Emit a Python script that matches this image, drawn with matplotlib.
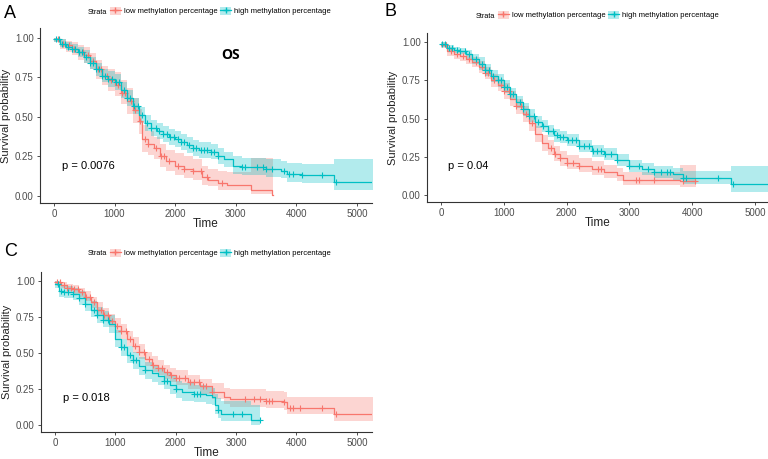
import matplotlib
matplotlib.use("Agg")
import matplotlib.pyplot as plt
import numpy as np
from matplotlib.patches import Patch
from matplotlib.lines import Line2D

RED = "#F8766D"
TEAL = "#00BFC4"
LABELS = ["low methylation percentage", "high methylation percentage"]

# ---- Panel A ----
a_low_t = [0, 100, 200, 300, 400, 500, 600, 700, 800, 900, 1000, 1100, 1200, 1300, 1400, 1450, 1550, 1650,
           1750, 1850, 2000, 2150, 2300, 2450, 2550, 2700, 2850, 3250, 3600, 3620]
a_low_s = [0.99, 0.96, 0.95, 0.93, 0.91, 0.89, 0.85, 0.80, 0.76, 0.73, 0.70, 0.65, 0.60, 0.54, 0.47, 0.36, 0.33,
           0.30, 0.25, 0.22, 0.19, 0.17, 0.16, 0.12, 0.10, 0.08, 0.07, 0.035, 0.005, 0.005]
a_low_lo = [0.97, 0.93, 0.91, 0.89, 0.86, 0.84, 0.80, 0.74, 0.70, 0.66, 0.63, 0.58, 0.52, 0.46, 0.39, 0.28, 0.26,
            0.23, 0.18, 0.16, 0.13, 0.11, 0.10, 0.07, 0.06, 0.04, 0.035, 0.01, 0.0, 0.0]
a_low_hi = [1.0, 0.99, 0.98, 0.97, 0.95, 0.94, 0.90, 0.86, 0.82, 0.80, 0.78, 0.73, 0.68, 0.62, 0.55, 0.45, 0.41,
            0.37, 0.33, 0.29, 0.27, 0.25, 0.23, 0.19, 0.17, 0.16, 0.15, 0.24, 0.24, 0.24]
a_low_cens = [60, 150, 250, 330, 420, 480, 560, 650, 720, 780, 870, 950, 1050, 1120, 1180, 1280, 1330, 1420,
              1500, 1560, 1680, 1760, 1820, 1900, 2050, 2150, 2300, 2420, 2520, 2780]

a_high_t = [0, 100, 200, 300, 400, 500, 600, 700, 800, 900, 1000, 1100, 1200, 1300, 1400, 1500, 1600, 1700,
            1800, 1900, 2000, 2100, 2200, 2300, 2400, 2600, 2700, 2800, 2950, 3100, 3500, 3750, 3850, 4100,
            4620, 5300]
a_high_s = [0.99, 0.96, 0.94, 0.93, 0.91, 0.88, 0.84, 0.80, 0.76, 0.74, 0.72, 0.67, 0.62, 0.57, 0.51, 0.46,
            0.43, 0.41, 0.39, 0.37, 0.36, 0.34, 0.32, 0.30, 0.29, 0.28, 0.25, 0.23, 0.19, 0.18, 0.17, 0.16,
            0.14, 0.13, 0.09, 0.09]
a_high_lo = [0.97, 0.94, 0.92, 0.90, 0.88, 0.84, 0.80, 0.76, 0.72, 0.69, 0.67, 0.62, 0.57, 0.52, 0.46, 0.41,
             0.38, 0.36, 0.34, 0.32, 0.31, 0.29, 0.27, 0.25, 0.24, 0.23, 0.20, 0.18, 0.14, 0.13, 0.12, 0.11,
             0.09, 0.08, 0.04, 0.04]
a_high_hi = [1.0, 0.99, 0.97, 0.96, 0.94, 0.92, 0.88, 0.84, 0.80, 0.79, 0.77, 0.72, 0.67, 0.62, 0.56, 0.51,
             0.48, 0.46, 0.44, 0.42, 0.41, 0.39, 0.37, 0.35, 0.34, 0.33, 0.30, 0.28, 0.25, 0.24, 0.23, 0.22,
             0.21, 0.20, 0.23, 0.23]
a_high_cens = [30, 80, 130, 180, 230, 300, 350, 420, 470, 530, 600, 650, 700, 750, 800, 850, 900, 960, 1020,
               1080, 1150, 1200, 1250, 1320, 1380, 1450, 1530, 1600, 1680, 1740, 1800, 1860, 1920, 1980, 2050,
               2100, 2150, 2230, 2300, 2350, 2420, 2480, 2520, 2600, 2650, 2700, 3100, 3150, 3350, 3450, 3500,
               3600, 3800, 3880, 3950, 4100, 4420, 4650]

# ---- Panel B ----
b_low_t = [0, 100, 200, 300, 400, 500, 600, 700, 800, 900, 1000, 1100, 1200, 1300, 1400, 1500, 1600, 1700,
           1800, 1900, 2000, 2200, 2400, 2600, 2800, 2900, 3800, 4070]
b_low_s = [0.98, 0.94, 0.92, 0.91, 0.89, 0.87, 0.84, 0.80, 0.75, 0.72, 0.68, 0.63, 0.58, 0.53, 0.47, 0.40,
           0.34, 0.31, 0.27, 0.24, 0.21, 0.19, 0.17, 0.15, 0.13, 0.10, 0.095, 0.095]
b_low_lo = [0.96, 0.91, 0.89, 0.88, 0.86, 0.84, 0.80, 0.76, 0.71, 0.68, 0.63, 0.58, 0.53, 0.48, 0.42, 0.35,
            0.29, 0.26, 0.22, 0.19, 0.17, 0.15, 0.13, 0.11, 0.09, 0.065, 0.055, 0.055]
b_low_hi = [1.0, 0.97, 0.95, 0.94, 0.92, 0.90, 0.88, 0.84, 0.79, 0.76, 0.73, 0.68, 0.63, 0.58, 0.52, 0.45,
            0.39, 0.36, 0.32, 0.29, 0.26, 0.24, 0.22, 0.20, 0.18, 0.15, 0.20, 0.20]
b_low_cens = [80, 150, 250, 350, 450, 550, 650, 700, 750, 850, 950, 1000, 1080, 1200, 1270, 1350, 1450, 1750,
              1820, 1900, 2000, 2100, 2200, 2500, 2550, 3100, 3150, 3400, 3850, 4050]

b_high_t = [0, 100, 200, 300, 400, 500, 600, 700, 800, 900, 1000, 1100, 1200, 1300, 1400, 1500, 1600, 1700,
            1800, 1900, 2000, 2200, 2400, 2600, 2800, 3000, 3200, 3400, 3700, 3850, 4620, 5300]
b_high_s = [0.99, 0.96, 0.95, 0.94, 0.92, 0.89, 0.86, 0.82, 0.78, 0.75, 0.71, 0.66, 0.61, 0.56, 0.52, 0.48,
            0.45, 0.42, 0.39, 0.38, 0.36, 0.32, 0.29, 0.27, 0.23, 0.19, 0.17, 0.15, 0.14, 0.11, 0.07, 0.07]
b_high_lo = [0.97, 0.94, 0.93, 0.92, 0.89, 0.86, 0.82, 0.78, 0.74, 0.71, 0.67, 0.62, 0.57, 0.52, 0.48, 0.44,
             0.41, 0.38, 0.35, 0.34, 0.32, 0.28, 0.25, 0.23, 0.19, 0.15, 0.13, 0.11, 0.10, 0.07, 0.02, 0.02]
b_high_hi = [1.0, 0.98, 0.97, 0.96, 0.95, 0.92, 0.90, 0.86, 0.82, 0.79, 0.75, 0.70, 0.65, 0.60, 0.56, 0.52,
             0.49, 0.46, 0.43, 0.42, 0.40, 0.36, 0.33, 0.31, 0.27, 0.23, 0.21, 0.19, 0.18, 0.16, 0.19, 0.19]
b_high_cens = [20, 60, 120, 180, 250, 300, 380, 450, 550, 650, 700, 760, 820, 900, 950, 1000, 1050, 1100,
               1150, 1250, 1300, 1400, 1480, 1550, 1620, 1700, 1780, 1850, 1900, 1950, 2020, 2080, 2150, 2200,
               2280, 2350, 2420, 2480, 2550, 2620, 2700, 2800, 3000, 3150, 3300, 3400, 3500, 3600, 3650, 3850,
               3900, 4420, 4650]

# ---- Panel C ----
c_low_t = [0, 100, 200, 300, 400, 500, 600, 700, 800, 900, 1000, 1100, 1200, 1300, 1400, 1500, 1600, 1700,
           1800, 1900, 2000, 2200, 2400, 2600, 2800, 2900, 3500, 3800, 3850, 4620, 5300]
c_low_s = [0.99, 0.97, 0.95, 0.94, 0.92, 0.89, 0.85, 0.80, 0.76, 0.72, 0.69, 0.65, 0.60, 0.55, 0.51, 0.46,
           0.42, 0.40, 0.37, 0.35, 0.33, 0.30, 0.27, 0.23, 0.20, 0.18, 0.17, 0.16, 0.12, 0.08, 0.08]
c_low_lo = [0.97, 0.95, 0.93, 0.91, 0.89, 0.86, 0.81, 0.76, 0.72, 0.68, 0.64, 0.60, 0.55, 0.50, 0.46, 0.41,
            0.37, 0.35, 0.32, 0.30, 0.28, 0.25, 0.22, 0.18, 0.15, 0.13, 0.12, 0.11, 0.08, 0.03, 0.03]
c_low_hi = [1.0, 0.99, 0.98, 0.97, 0.95, 0.93, 0.89, 0.85, 0.81, 0.77, 0.74, 0.70, 0.65, 0.61, 0.56, 0.51,
            0.48, 0.45, 0.42, 0.40, 0.38, 0.35, 0.32, 0.29, 0.26, 0.25, 0.24, 0.23, 0.20, 0.20, 0.20]
c_low_cens = [30, 90, 150, 200, 260, 320, 380, 450, 520, 580, 640, 700, 760, 820, 880, 950, 1020, 1100, 1180,
              1250, 1320, 1400, 1480, 1550, 1620, 1700, 1780, 1850, 1920, 2000, 2060, 2150, 2230, 2300, 2380,
              2450, 2500, 2600, 3150, 3300, 3400, 3500, 3550, 3600, 3800, 3900, 3950, 4050, 4420, 4650]

c_high_t = [0, 60, 150, 300, 400, 500, 600, 700, 800, 900, 1000, 1100, 1200, 1300, 1400, 1500, 1600, 1700,
            1800, 1900, 2000, 2100, 2300, 2500, 2600, 2650, 2700, 2750, 3250, 3400]
c_high_s = [0.98, 0.93, 0.92, 0.91, 0.88, 0.84, 0.80, 0.76, 0.73, 0.70, 0.60, 0.54, 0.49, 0.45, 0.41, 0.38,
            0.36, 0.34, 0.31, 0.28, 0.25, 0.23, 0.22, 0.21, 0.20, 0.14, 0.11, 0.08, 0.04, 0.04]
c_high_lo = [0.95, 0.89, 0.88, 0.87, 0.83, 0.79, 0.75, 0.71, 0.68, 0.64, 0.54, 0.48, 0.43, 0.39, 0.35, 0.32,
             0.30, 0.28, 0.25, 0.22, 0.19, 0.17, 0.16, 0.15, 0.14, 0.08, 0.05, 0.03, 0.005, 0.005]
c_high_hi = [1.0, 0.97, 0.96, 0.95, 0.93, 0.89, 0.86, 0.82, 0.79, 0.76, 0.66, 0.60, 0.55, 0.51, 0.47, 0.44,
             0.42, 0.40, 0.37, 0.34, 0.31, 0.29, 0.28, 0.27, 0.26, 0.22, 0.19, 0.17, 0.14, 0.14]
c_high_cens = [50, 100, 150, 220, 300, 400, 500, 650, 700, 800, 880, 1100, 1150, 1250, 1300, 1350, 1500,
               1800, 1850, 2000, 2300, 2350, 2400, 2700, 2950, 3100, 3400]

X_TICKS = [0, 1000, 2000, 3000, 4000, 5000]
Y_TICKS = [0.0, 0.25, 0.5, 0.75, 1.0]

plt.rcParams["font.family"] = ["Liberation Sans", "DejaVu Sans"]

W, H = 768, 459
fig = plt.figure(figsize=(W / 100, H / 100), dpi=100)


def px_axes(left, top, right, bottom):
    return fig.add_axes([left / W, 1 - bottom / H, (right - left) / W, (bottom - top) / H])


def km(ax, t, s, lo, hi, cens, color):
    t = np.asarray(t, float)
    s = np.asarray(s, float)
    ax.fill_between(t, lo, hi, step="post", color=color, alpha=0.3, lw=0)
    ax.step(t, s, where="post", color=color, lw=0.9)
    idx = np.searchsorted(t, cens, side="right") - 1
    ax.plot(cens, s[idx], ls="none", marker="+", ms=5, mew=0.8, color=color)


def style(ax, xlim):
    ax.set_xlim(*xlim)
    ax.set_ylim(-0.045, 1.06)
    ax.set_xticks(X_TICKS)
    ax.set_yticks(Y_TICKS)
    ax.set_yticklabels([f"{v:.2f}" for v in Y_TICKS])
    for sp in ("top", "right"):
        ax.spines[sp].set_visible(False)
    for sp in ("left", "bottom"):
        ax.spines[sp].set_color("#333333")
        ax.spines[sp].set_linewidth(0.8)
    ax.tick_params(length=2.5, width=0.6, color="#333333", labelsize=7, labelcolor="#4D4D4D", pad=2)
    ax.set_xlabel("Time", fontsize=8.5, labelpad=-1, color="#222222")
    ax.set_ylabel("Survival probability", fontsize=8, labelpad=3, color="#222222")


def legend(x_px, y_px):
    fig.text(x_px / W, 1 - y_px / H, "Strata", fontsize=5.3, va="center_baseline", ha="left")
    handles = [(Patch(facecolor=c, alpha=0.3, lw=0), Line2D([], [], color=c, lw=0.9, marker="+", ms=5))
               for c in (RED, TEAL)]
    fig.legend(handles, LABELS, loc="center left", bbox_to_anchor=((x_px + 22) / W, 1 - y_px / H),
               ncol=2, frameon=False, fontsize=5.5, handlelength=1.4, handleheight=1.2,
               handletextpad=0.4, columnspacing=0.4, borderpad=0, borderaxespad=0)


# Panel A
ax = px_axes(40, 28, 372, 203)
km(ax, a_low_t, a_low_s, a_low_lo, a_low_hi, a_low_cens, RED)
km(ax, a_high_t, a_high_s, a_high_lo, a_high_hi, a_high_cens, TEAL)
style(ax, (-230, 5250))
ax.text(2920, 0.89, "OS", fontsize=10, fontweight="bold", family=["Open Sans", "DejaVu Sans"],
        ha="center", va="center")
ax.text(130, 0.19, "p = 0.0076", fontsize=8, va="center", ha="left")
legend(88, 11)
fig.text(4 / W, 1 - 13 / H, "A", fontsize=13, va="center", ha="left")

# Panel B
ax = px_axes(427, 33, 768, 202)
km(ax, b_low_t, b_low_s, b_low_lo, b_low_hi, b_low_cens, RED)
km(ax, b_high_t, b_high_s, b_high_lo, b_high_hi, b_high_cens, TEAL)
style(ax, (-225, 5210))
ax.text(110, 0.19, "p = 0.04", fontsize=8, va="center", ha="left")
legend(476, 15)
fig.text(384 / W, 1 - 12 / H, "B", fontsize=13, va="center", ha="left")

# Panel C
ax = px_axes(41, 272, 372, 432)
km(ax, c_low_t, c_low_s, c_low_lo, c_low_hi, c_low_cens, RED)
km(ax, c_high_t, c_high_s, c_high_lo, c_high_hi, c_high_cens, TEAL)
style(ax, (-230, 5250))
ax.text(130, 0.19, "p = 0.018", fontsize=8, va="center", ha="left")
legend(88, 253)
fig.text(4 / W, 1 - 252 / H, "C", fontsize=13, va="center", ha="left")

fig.savefig("out.png", dpi=100)
